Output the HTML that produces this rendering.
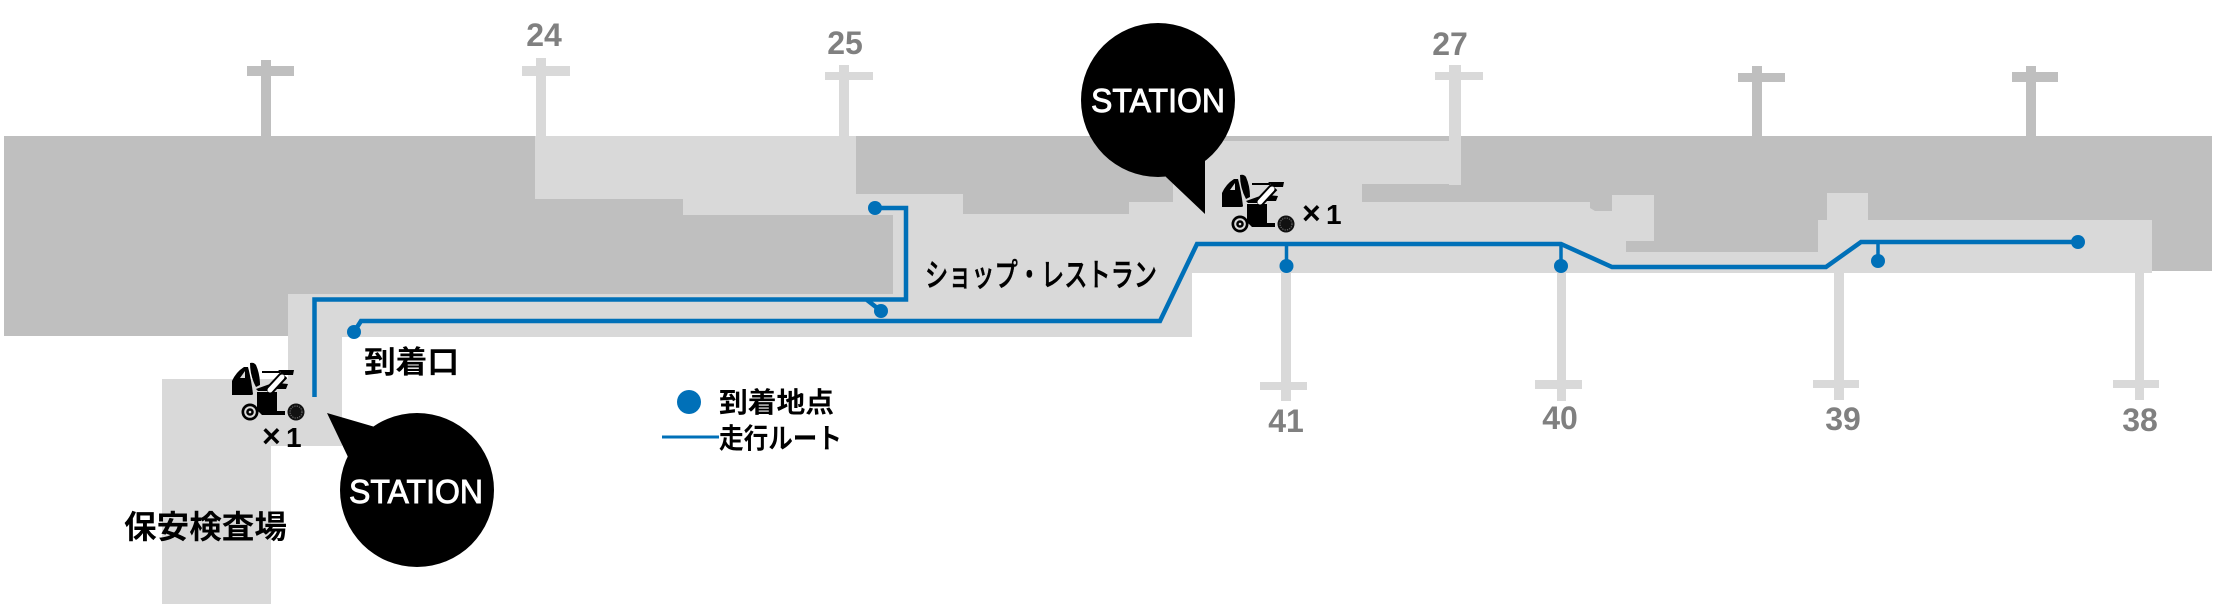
<!DOCTYPE html>
<html lang="ja">
<head>
<meta charset="utf-8">
<title>Route map</title>
<style>
html,body{margin:0;padding:0;background:#fff;width:2218px;height:614px;overflow:hidden}
svg{display:block}
.g{font:bold 32px "Liberation Sans",sans-serif;fill:#808080;text-anchor:middle}
.j{font-family:"Liberation Sans","Noto Sans CJK JP",sans-serif;font-weight:700;fill:#000}
.m{font-family:"Liberation Sans","Noto Sans CJK JP",sans-serif;font-weight:500;fill:#000;stroke:#000;stroke-width:.5px}
.s{font:33px "Liberation Sans",sans-serif;fill:#fff;stroke:#fff;stroke-width:.9px;text-anchor:middle}
.x{font-family:"Liberation Sans",sans-serif;font-weight:700;fill:#000}
</style>
</head>
<body>
<svg width="2218" height="614" viewBox="0 0 2218 614" xmlns="http://www.w3.org/2000/svg">
<defs>
<g id="cart">
<path d="M22,47 L22,33 Q26,24 34,19 L38,19 Q41,30 43,46 Q43,47 40,47 Z" fill="#000"/>
<path d="M30,30 L35,23 L35,30 Z" fill="#d9d9d9"/>
<path d="M40,15 Q44,14 46,17 Q50,26 50,37 L46,39 Q40,28 40,15 Z" fill="#000"/>
<path d="M52,24 L70,24" stroke="#000" stroke-width="2" fill="none"/>
<path d="M68,22 L84,22 L83,27 L74,27 Z" fill="#000"/>
<path d="M46,41 L60,36 L60,43 L48,43 Z" fill="#000"/>
<path d="M68,35 L78,36 L76,41 L66,41 Z" fill="#000"/>
<path d="M47,44 L67,44 L67,63 L75,63 L75,67 L52,67 L47,62 Z" fill="#000"/>
<path d="M58,44 L74,27" stroke="#000" stroke-width="9" fill="none"/>
<path d="M60,42 L72,29" stroke="#fff" stroke-width="5" stroke-linecap="round" fill="none"/>
<circle cx="40" cy="64" r="8.5" fill="#000"/>
<circle cx="40" cy="64" r="5.8" fill="#d9d9d9"/>
<circle cx="40" cy="64" r="3.8" fill="#000"/>
<circle cx="40" cy="64" r="1.3" fill="#d9d9d9"/>
<circle cx="86" cy="64" r="8.5" fill="#111"/>
<circle cx="86" cy="64" r="6" fill="none" stroke="#777" stroke-width="1" stroke-dasharray="1.2 1.2"/>
</g>
</defs>

<!-- dark terminal -->
<rect x="4" y="136" width="2208" height="135" fill="#bfbfbf"/>
<rect x="4" y="136" width="1000" height="200" fill="#bfbfbf"/>

<!-- gate stems / bars (dark) -->
<g fill="#bfbfbf">
<rect x="261" y="60" width="10" height="77"/><rect x="247" y="66" width="47" height="10"/>
<rect x="1752" y="66" width="10" height="71"/><rect x="1738" y="73" width="47" height="9"/>
<rect x="2026" y="66" width="10" height="71"/><rect x="2012" y="72" width="46" height="10"/>
</g>
<!-- gate stems / bars (light) -->
<g fill="#d9d9d9">
<rect x="536" y="58" width="10" height="79"/><rect x="522" y="66" width="48" height="10"/>
<rect x="839" y="65" width="10" height="72"/><rect x="825" y="72" width="48" height="8"/>
<rect x="1449" y="65" width="12" height="120"/><rect x="1435" y="72" width="48" height="8"/>
<rect x="1281" y="270" width="10" height="131"/><rect x="1260" y="382" width="47" height="8"/>
<rect x="1557" y="270" width="9" height="131"/><rect x="1535" y="380" width="47" height="9"/>
<rect x="1834" y="270" width="10" height="130"/><rect x="1813" y="380" width="46" height="8"/>
<rect x="2135" y="270" width="9" height="130"/><rect x="2113" y="380" width="46" height="8"/>
</g>

<!-- light walkway -->
<path fill="#d9d9d9" d="M535,136 L856,136 L856,194 L963,194 L963,214 L1129,214 L1129,202 L1173,202 L1173,141 L1449,141 L1449,184 L1362,184 L1362,202 L1590,202 L1590,208 L1595,211 L1612,211 L1612,195 L1654,195 L1654,241 L1626,241 L1626,252 L1818,252 L1818,220 L1827,220 L1827,193 L1868,193 L1868,220 L2152,220 L2152,273 L1192,273 L1192,337 L342,337 L342,446 L271,446 L271,604 L162,604 L162,379 L288,379 L288,294 L893,294 L893,215 L683,215 L683,199 L535,199 Z"/>

<!-- route -->
<g fill="none" stroke="#0070b8" stroke-width="4.5">
<path d="M314.5,397 L314.5,299.5 L906,299.5 L906,208 L875,208"/>
<path d="M867,300 L881,311"/>
<path d="M354,332 L361,321 L1160,321 L1197,244 L1561,244 L1612,267 L1826,267 L1861,242 L2078,242" stroke-linejoin="miter"/>
<path d="M1286.5,244 L1286.5,266 M1561,244 L1561,266 M1878,242 L1878,261" stroke-width="3.5"/>
</g>
<g fill="#0070b8">
<circle cx="875" cy="208" r="7"/>
<circle cx="881" cy="311" r="7"/>
<circle cx="354" cy="332" r="7"/>
<circle cx="1286.5" cy="266" r="7"/>
<circle cx="1561" cy="266" r="7"/>
<circle cx="1878" cy="261" r="7"/>
<circle cx="2078" cy="242" r="7"/>
</g>

<!-- gate labels -->
<text class="g" x="544" y="46">24</text>
<text class="g" x="845" y="54">25</text>
<text class="g" x="1450" y="55">27</text>
<text class="g" x="1286" y="432">41</text>
<text class="g" x="1560" y="429">40</text>
<text class="g" x="1843" y="430">39</text>
<text class="g" x="2140" y="431">38</text>

<!-- area labels -->
<text class="j" x="364" y="373" font-size="31" textLength="95" lengthAdjust="spacingAndGlyphs">到着口</text>
<text class="j" x="124" y="538" font-size="32" textLength="163" lengthAdjust="spacingAndGlyphs">保安検査場</text>
<text class="m" x="925" y="286" font-size="32" textLength="232" lengthAdjust="spacingAndGlyphs">ショップ・レストラン</text>

<!-- legend -->
<circle cx="689" cy="402" r="12" fill="#0070b8"/>
<path d="M662,437 L719,437" stroke="#0070b8" stroke-width="3"/>
<text class="j" x="719" y="412" font-size="28" textLength="115" lengthAdjust="spacingAndGlyphs">到着地点</text>
<text class="j" x="719" y="448" font-size="28" textLength="123" lengthAdjust="spacingAndGlyphs">走行ルート</text>

<!-- carts -->
<use href="#cart" x="1200" y="160"/>
<use href="#cart" x="210" y="348"/>
<text class="x" x="1302" y="224" font-size="32">×</text>
<text class="x" x="1326" y="224" font-size="28">1</text>
<text class="x" x="262" y="447" font-size="32">×</text>
<text class="x" x="286" y="447" font-size="28">1</text>

<!-- station bubbles -->
<circle cx="417" cy="490" r="77" fill="#000"/>
<path d="M327,413 L375,427 L410,440 L360,480 L348,457 Z" fill="#000"/>
<text class="s" x="416" y="503" textLength="134" lengthAdjust="spacingAndGlyphs">STATION</text>

<circle cx="1158" cy="100" r="77" fill="#000"/>
<path d="M1205,214 L1166,177 L1150,150 L1205,140 Z" fill="#000"/>
<text class="s" x="1158" y="112" textLength="134" lengthAdjust="spacingAndGlyphs">STATION</text>
</svg>
</body>
</html>
